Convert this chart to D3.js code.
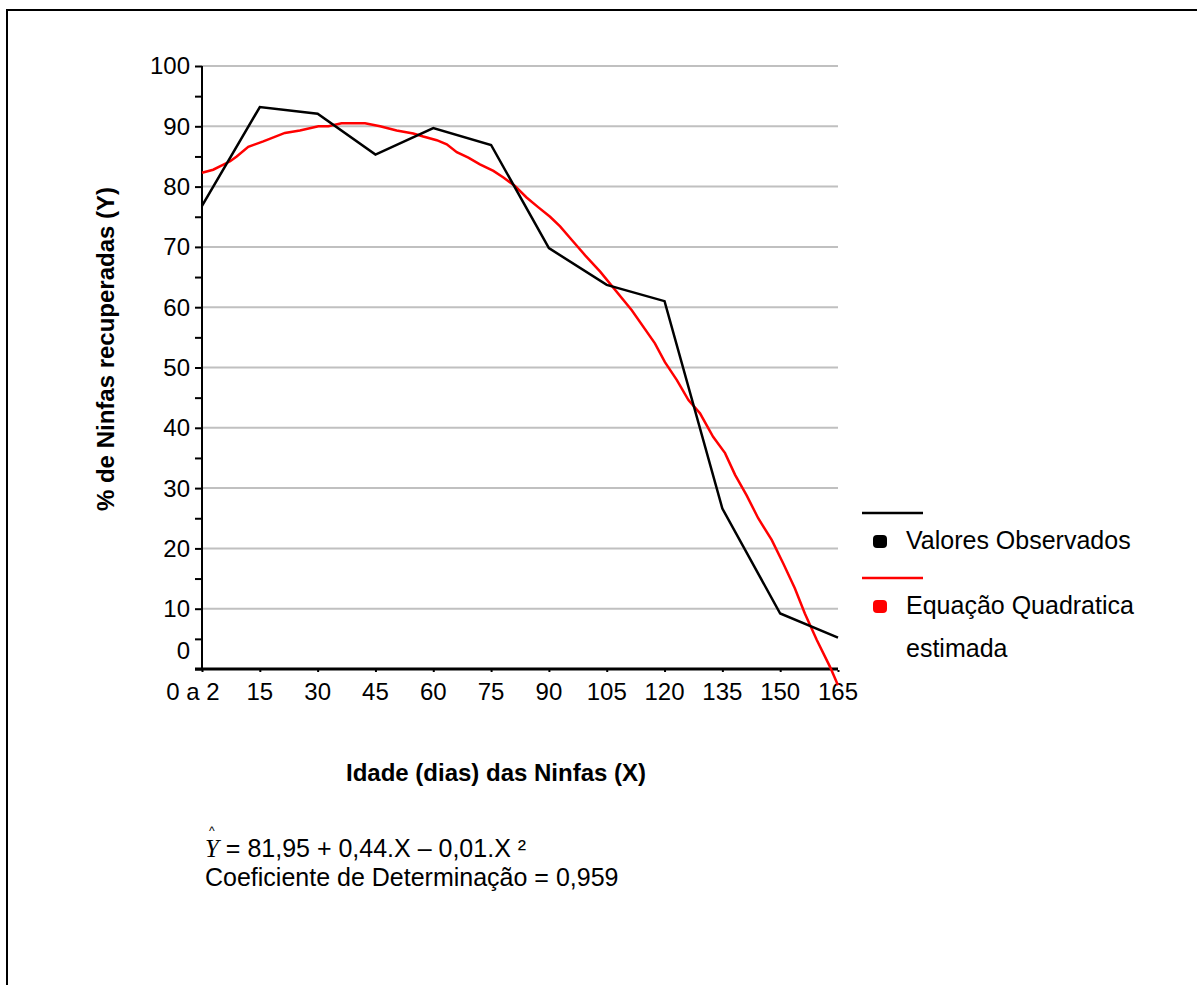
<!DOCTYPE html>
<html>
<head>
<meta charset="utf-8">
<script src="https://cdn.jsdelivr.net/npm/d3@7"></script>
<style>
  body { margin: 0; background: #fff; }
  text { font-family: "Liberation Sans", Arial, sans-serif; fill: #000; }
</style>
</head>
<body>
<script>
// x categories (days) and their labels
const xTicks = [0, 15, 30, 45, 60, 75, 90, 105, 120, 135, 150, 165];
const xLabels = ['0 a 2', '15', '30', '45', '60', '75', '90', '105', '120', '135', '150', '165'];
const yTicks = [0, 10, 20, 30, 40, 50, 60, 70, 80, 90, 100];

// observed values
const obsY = [76.8, 93.2, 92.1, 85.3, 89.7, 86.9, 69.8, 63.7, 61.0, 26.6, 9.2, 5.2];

// estimated quadratic curve
const estX = [0, 2.9, 7.3, 9.0, 12.0, 15.9, 21.5, 25.4, 30.2, 32.8, 36.2, 42.3, 46.2, 50.5, 54.8, 57.4,
  60.9, 63.5, 66.1, 69.1, 72.1, 75.6, 78.2, 81.2, 84.2, 87.2, 90.3, 92.9, 96.0, 99.4, 103.3,
  111.5, 117.5, 120.1, 123.2, 126.2, 129.2, 132.6, 135.7, 138.3, 141.3, 144.3, 147.8, 150.8,
  153.8, 156.4, 159.5, 162.9, 165];
const estY = [82.3, 82.8, 84.2, 85.0, 86.6, 87.5, 88.9, 89.3, 90.0, 90.0, 90.5, 90.5, 90.0, 89.3, 88.8, 88.3,
  87.7, 87.0, 85.7, 84.8, 83.7, 82.6, 81.5, 80.1, 78.2, 76.6, 75.0, 73.4, 71.1, 68.6, 65.9,
  59.5, 54.0, 50.9, 47.9, 44.6, 42.4, 38.5, 35.8, 32.2, 28.8, 25.0, 21.4, 17.5,
  13.4, 9.2, 4.8, 0.4, -2.7];

const W = 1197, H = 985;
const plotL = 202, plotR = 838, plotT = 66, plotB = 669;

const svg = d3.select('body').append('svg').attr('width', W).attr('height', H);

// frame
svg.append('path').attr('d', 'M7,' + H + 'V10H' + W).attr('fill', 'none').attr('stroke', '#000').attr('stroke-width', 2);

const x = d3.scaleLinear().domain([0, 165]).range([plotL, plotR]);
const y = d3.scaleLinear().domain([0, 100]).range([plotB, plotT]);

// gridlines
svg.append('g').selectAll('line').data(yTicks.slice(1)).enter().append('line')
   .attr('x1', plotL).attr('x2', plotR)
   .attr('y1', d => y(d)).attr('y2', d => y(d))
   .attr('stroke', '#c0c0c0').attr('stroke-width', 2);

// y axis
const yAxis = d3.axisLeft(y).tickValues(d3.range(0, 101, 5)).tickSize(7).tickFormat('');
const gy = svg.append('g').attr('transform', 'translate(' + plotL + ',0)').call(yAxis);
gy.select('.domain').attr('stroke-width', 2).attr('d', 'M0,' + plotT + 'V' + plotB);
gy.selectAll('.tick line').attr('stroke-width', 2);

svg.append('g').selectAll('text').data(yTicks).enter().append('text')
   .attr('x', 190)
   .attr('y', d => d === 0 ? y(0) - 18 : y(d))
   .attr('dy', '0.35em')
   .attr('text-anchor', 'end')
   .style('font-size', '24px')
   .text(d => d);

// x axis
const xAxis = d3.axisBottom(x).tickValues(xTicks).tickSize(3).tickFormat('');
const gx = svg.append('g').attr('transform', 'translate(0,' + plotB + ')').call(xAxis);
gx.select('.domain').attr('stroke-width', 3).attr('d', 'M' + (plotL - 7) + ',0H' + plotR);
gx.selectAll('.tick line').attr('stroke-width', 2).attr('stroke-dasharray', '0,1,2');

svg.append('g').selectAll('text').data(xTicks).enter().append('text')
   .attr('x', (d, i) => i === 0 ? x(d) - 9 : x(d))
   .attr('y', 700)
   .attr('text-anchor', 'middle')
   .style('font-size', '24px')
   .text((d, i) => xLabels[i]);

// series
const line = d3.line().x(d => x(d[0])).y(d => y(d[1]));
svg.append('path').datum(estX.map((v, i) => [v, estY[i]]))
   .attr('d', line).attr('fill', 'none').attr('stroke', '#ff0000').attr('stroke-width', 2.5);
svg.append('path').datum(xTicks.map((v, i) => [v, obsY[i]]))
   .attr('d', line).attr('fill', 'none').attr('stroke', '#000').attr('stroke-width', 2.5);

// axis titles
svg.append('text').text('% de Ninfas recuperadas (Y)')
   .attr('transform', 'translate(114,349)rotate(-90)')
   .attr('text-anchor', 'middle').style('font-size', '24px').style('font-weight', 'bold');
svg.append('text').text('Idade (dias) das Ninfas (X)')
   .attr('x', 496).attr('y', 781)
   .attr('text-anchor', 'middle').style('font-size', '24px').style('font-weight', 'bold');

// legend
const legend = svg.append('g');
legend.append('line').attr('x1', 862).attr('x2', 923).attr('y1', 513).attr('y2', 513).attr('stroke', '#000').attr('stroke-width', 2.5);
legend.append('rect').attr('x', 873).attr('y', 535).attr('width', 14).attr('height', 13).attr('rx', 4).attr('fill', '#000');
legend.append('text').text('Valores Observados').attr('x', 906).attr('y', 549).style('font-size', '25px');
legend.append('line').attr('x1', 862).attr('x2', 923).attr('y1', 578).attr('y2', 578).attr('stroke', '#ff0000').attr('stroke-width', 2.5);
legend.append('rect').attr('x', 873).attr('y', 600).attr('width', 14).attr('height', 13).attr('rx', 4).attr('fill', '#ff0000');
legend.append('text').text('Equação Quadratica').attr('x', 906).attr('y', 614).style('font-size', '25px');
legend.append('text').text('estimada').attr('x', 906).attr('y', 657).style('font-size', '25px');

// equation (hat, Y and the rest in one text element)
const eq = svg.append('text').attr('x', 209).attr('y', 835).style('font-size', '25px').style('white-space', 'pre');
eq.append('tspan').text('^').style('font-size', '12px');
eq.append('tspan').text('Y').attr('x', 205).attr('y', 857)
  .style('font-family', '"Liberation Serif", "Times New Roman", serif').style('font-style', 'italic');
eq.append('tspan').text(' = 81,95 + 0,44.X \u2013 0,01.X \u00b2');
svg.append('text').text('Coeficiente de Determinação = 0,959').attr('x', 205).attr('y', 886).style('font-size', '25px');
</script>
</body>
</html>
